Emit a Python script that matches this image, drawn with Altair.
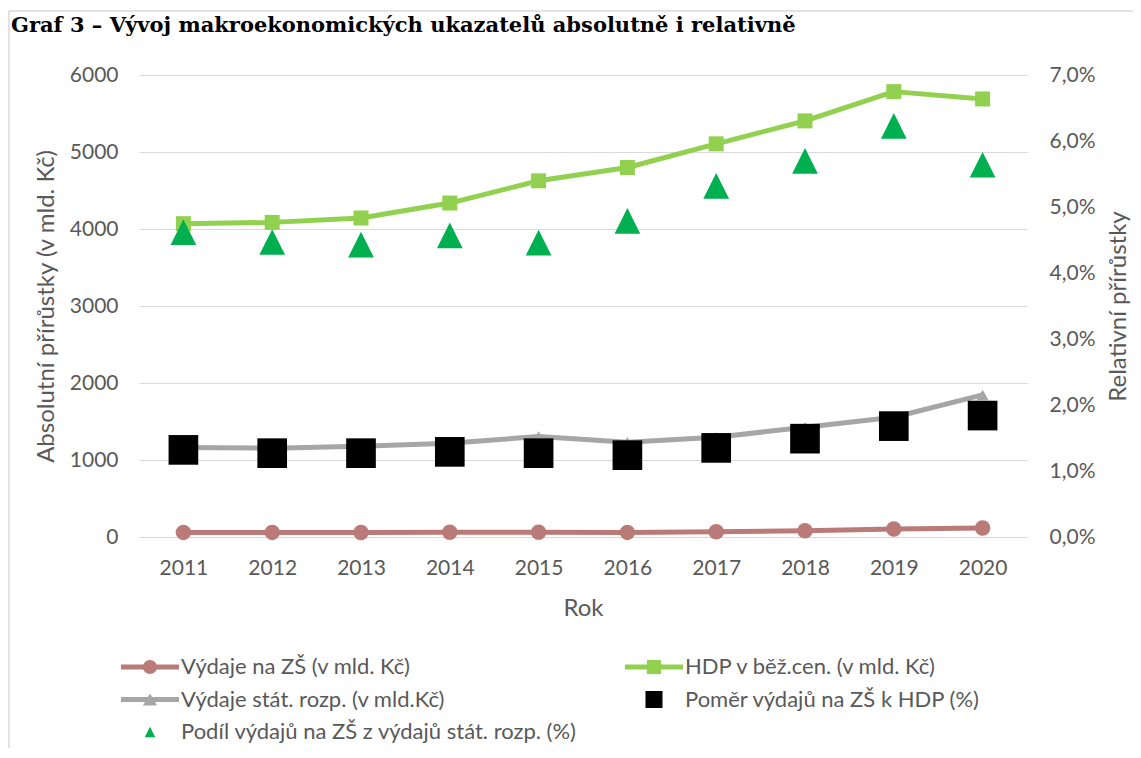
import altair as alt
import pandas as pd

# ---------------- data ----------------
years = ["2011", "2012", "2013", "2014", "2015", "2016", "2017", "2018", "2019", "2020"]
vydaje_zs = [60, 60, 59, 61, 62, 60, 69, 82, 104, 117]            # mld. Kč
hdp = [4069, 4086, 4143, 4337, 4626, 4799, 5106, 5404, 5784, 5689]  # mld. Kč
vydaje_stat = [1162, 1153, 1180, 1218, 1305, 1231, 1296, 1425, 1555, 1845]  # mld. Kč
pomer_zs_hdp = [0.0132, 0.0127, 0.0127, 0.0129, 0.0127, 0.0124, 0.0135, 0.0149, 0.0168, 0.0184]
podil_zs_stat = [0.0462, 0.0447, 0.0443, 0.0457, 0.0446, 0.0479, 0.0532, 0.0570, 0.0623, 0.0564]

left_ticks = [0, 1000, 2000, 3000, 4000, 5000, 6000]
right_ticks = [0.0, 0.01, 0.02, 0.03, 0.04, 0.05, 0.06, 0.07]

legend_labels = [
    "Výdaje na ZŠ (v mld. Kč)",
    "HDP v běž.cen. (v mld. Kč)",
    "Výdaje stát. rozp. (v mld.Kč)",
    "Poměr výdajů na ZŠ k HDP (%)",
    "Podíl výdajů na ZŠ z výdajů stát. rozp. (%)",
]
legend_col = [0, 1, 0, 1, 0]
legend_row = [0, 0, 1, 1, 2]

title_text = "Graf 3 – Vývoj makroekonomických ukazatelů absolutně i relativně"

# ---------------- style ----------------
FONT = "Lato"
TXT = "#595959"
GRID = "#D9D9D9"
C_ZS = "#B97A78"
C_HDP = "#92D050"
C_STAT = "#A6A6A6"
C_POMER = "#000000"
C_PODIL = "#00B050"
TRI = "M0,-1L1,1L-1,1Z"

W, H = 888, 462
PB = 211  # bottom padding

df = pd.DataFrame({
    "Rok": years,
    "zs": vydaje_zs,
    "hdp": hdp,
    "stat": vydaje_stat,
    "pomer": pomer_zs_hdp,
    "podil": podil_zs_stat,
})

base = alt.Chart(df)

x_main = alt.X(
    "Rok:O",
    scale=alt.Scale(type="point", padding=0.5),
    axis=alt.Axis(title="Rok", labelAngle=0, ticks=False, domain=True,
                  domainColor=GRID, domainWidth=1, labelPadding=20, titlePadding=18),
)
x_sec = alt.X("Rok:O", scale=alt.Scale(type="point", padding=0.5), axis=None)

left_axis = alt.Axis(
    title="Absolutní přírůstky (v mld. Kč)", values=left_ticks, format="d",
    grid=True, gridColor=GRID, gridWidth=1, domain=False, ticks=False,
    labelPadding=21, titlePadding=11,
)
left_scale = alt.Scale(domain=[0, 6000], nice=False, zero=True)


def line_series(field, color, shape, size):
    return base.mark_line(
        color=color, strokeWidth=5, strokeJoin="round", strokeCap="round",
        point=alt.OverlayMarkDef(filled=True, fill=color, color=color, shape=shape,
                                 size=size, opacity=1),
    ).encode(
        x=x_main,
        y=alt.Y(f"{field}:Q", scale=left_scale, axis=left_axis),
    )


primary = alt.layer(
    line_series("zs", C_ZS, "circle", 240),
    line_series("hdp", C_HDP, "square", 225),
    line_series("stat", C_STAT, "triangle-up", 150),
)

right_axis = alt.Axis(
    title="Relativní přírůstky", orient="right", values=right_ticks,
    labelExpr="replace(format(datum.value, '.1%'), '.', ',')",
    grid=False, domain=False, ticks=False, labelPadding=22, titlePadding=12,
    titleAngle=270, titleBaseline="top",
)
right_scale = alt.Scale(domain=[0, 0.07], nice=False, zero=True)

secondary = alt.layer(
    base.mark_point(filled=True, shape="square", size=880, color=C_POMER, opacity=1).encode(
        x=x_sec, y=alt.Y("pomer:Q", scale=right_scale, axis=right_axis)
    ),
    base.mark_point(filled=True, shape=TRI, size=660, color=C_PODIL, opacity=1).encode(
        x=x_sec, y=alt.Y("podil:Q", scale=right_scale, axis=right_axis)
    ),
)

# ---------------- legend (own scales, placed below the plot) ----------------
leg_df = pd.DataFrame({"label": legend_labels, "col": legend_col, "row": legend_row})
leg_x = alt.X("col:Q", scale=alt.Scale(domain=[0, 1], range=[11, 515]), axis=None)
leg_y = alt.Y("row:Q", scale=alt.Scale(domain=[0, 2], range=[592, 657]), axis=None)
leg_base = alt.Chart(leg_df)

leg_items = [
    (legend_labels[0], C_ZS, "circle", 200, True),
    (legend_labels[1], C_HDP, "square", 200, True),
    (legend_labels[2], C_STAT, "triangle-up", 200, True),
    (legend_labels[3], C_POMER, "square", 290, False),
    (legend_labels[4], C_PODIL, TRI, 110, False),
]
leg_layers = []
for lab, col, shp, sz, has_line in leg_items:
    sel = leg_base.transform_filter(alt.datum.label == lab)
    if has_line:
        leg_layers.append(
            sel.mark_tick(orient="horizontal", size=58, thickness=5, color=col, opacity=1)
            .encode(x=leg_x, y=leg_y)
        )
    leg_layers.append(
        sel.mark_point(filled=True, shape=shp, size=sz, color=col, opacity=1)
        .encode(x=leg_x, y=leg_y)
    )
leg_layers.append(
    leg_base.mark_text(align="left", baseline="middle", dx=31, font=FONT,
                       fontSize=22, color=TXT)
    .encode(x=leg_x, y=leg_y, text="label:N")
)
legend = alt.layer(*leg_layers)

# ---------------- frame and title ----------------
deco_df = pd.DataFrame({"t": [title_text]})
deco = alt.layer(
    alt.Chart(deco_df).mark_rule(color=GRID, strokeWidth=1.5).encode(
        x=alt.value(-130), x2=alt.value(W + 106), y=alt.value(-64)
    ),
    alt.Chart(deco_df).mark_rule(color=GRID, strokeWidth=1.5).encode(
        x=alt.value(-130), y=alt.value(-64), y2=alt.value(H + PB)
    ),
    alt.Chart(deco_df).mark_text(align="left", baseline="alphabetic",
                                 font="DejaVu Serif", fontWeight="bold",
                                 fontSize=21, color="#000000").encode(
        x=alt.value(-128), y=alt.value(-43), text="t:N"
    ),
)

chart = (
    alt.layer(deco, primary, secondary, legend)
    .resolve_scale(x="independent", y="independent")
    .properties(
        width=W, height=H,
        autosize=alt.AutoSizeParams(type="none"),
        padding={"left": 131, "top": 67, "right": 106, "bottom": PB},
    )
    .configure_view(stroke=None)
    .configure_axis(
        labelFont=FONT, titleFont=FONT, labelFontSize=21, titleFontSize=24,
        labelColor=TXT, titleColor=TXT, titleFontWeight="normal",
    )
)

chart.save("out.html", embed_options={"renderer": "svg", "actions": False})
